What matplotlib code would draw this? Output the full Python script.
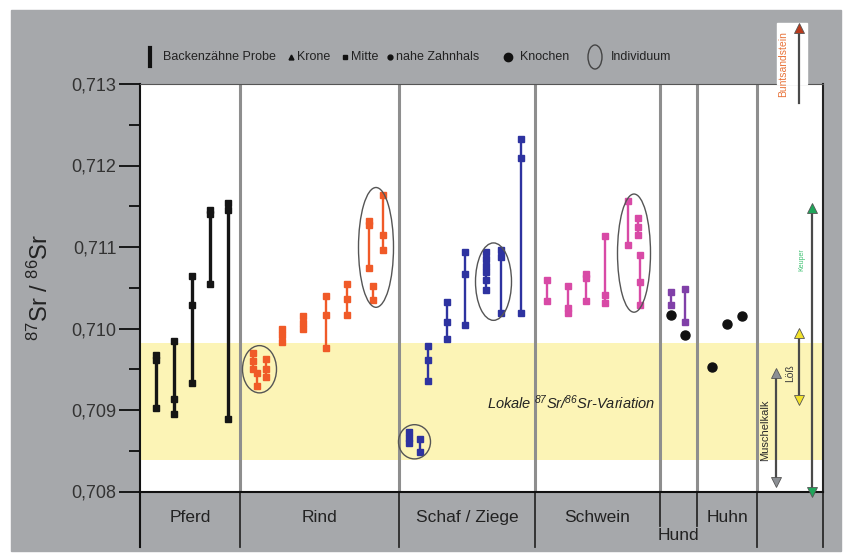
import matplotlib.pyplot as plt
from matplotlib.patches import Ellipse, Rectangle

plt.rcParams['font.family'] = ['Liberation Sans', 'DejaVu Sans']
plt.rcParams['mathtext.fontset'] = 'custom'
plt.rcParams['mathtext.rm'] = 'Liberation Sans'
plt.rcParams['mathtext.it'] = 'Liberation Sans:italic'

# Tierarten und Spaltengrenzen auf der x-Achse
tierarten = ['Pferd', 'Rind', 'Schaf / Ziege', 'Schwein', 'Hund', 'Huhn']
spalten = [0, 100, 259, 395, 520, 557, 617, 683]

# Backenzähne: Position und 87Sr/86Sr (Krone, Mitte, nahe Zahnhals)
pferd_x = [16, 34, 52, 70, 88]
pferd_sr = [[0.70968, 0.70961, 0.70902], [0.70985, 0.70913, 0.70895],
            [0.71064, 0.71029, 0.70933], [0.71145, 0.71140, 0.71055],
            [0.71154, 0.71145, 0.70889]]

rind_x = [113, 117, 126, 142, 163, 186, 207, 229, 233, 243]
rind_sr = [[0.70970, 0.70960, 0.70950], [0.70945, 0.70930],
           [0.70962, 0.70950, 0.70940], [0.71000, 0.70992, 0.70983],
           [0.71015, 0.71007, 0.70999], [0.71040, 0.71016, 0.70976],
           [0.71054, 0.71036, 0.71017], [0.71132, 0.71127, 0.71074],
           [0.71052, 0.71035], [0.71164, 0.71115, 0.71096]]

schaf_x = [269, 280, 288, 307, 325, 346, 361, 381]
schaf_sr = [[0.70873, 0.70866, 0.70859], [0.70865, 0.70849],
            [0.70978, 0.70961, 0.70935], [0.71032, 0.71008, 0.70987],
            [0.71094, 0.71067, 0.71004],
            [0.71094, 0.71085, 0.71077, 0.71069, 0.71060, 0.71047],
            [0.71096, 0.71088, 0.71019], [0.71233, 0.71209, 0.71019]]

schwein_x = [407, 428, 446, 465, 488, 498, 500]
schwein_sr = [[0.71060, 0.71034], [0.71052, 0.71025, 0.71019],
              [0.71067, 0.71062, 0.71034], [0.71113, 0.71041, 0.71031],
              [0.71156, 0.71102], [0.71135, 0.71125, 0.71115],
              [0.71090, 0.71057, 0.71029]]

hund_x = [531, 545]
hund_sr = [[0.71045, 0.71029], [0.71049, 0.71008]]

# Knochenproben (Hund, Huhn)
knochen_x = [531, 545, 572, 587, 602]
knochen_sr = [0.71017, 0.70992, 0.70953, 0.71006, 0.71015]

# Proben eines Individuums (Indizes innerhalb der Tierart)
rind_ind = [[0, 1, 2], [7, 8, 9]]
schaf_ind = [[0, 1], [5, 6]]
schwein_ind = [[4, 5, 6]]

# lokale Variation und geologische Einheiten
lokal = (0.70839, 0.70982)
geologie = ['Muschelkalk', 'Löß', 'Keuper', 'Buntsandstein']
geo_x = [636, 659, 672, 659]
geo_sr = [(0.70812, 0.70945), (0.70912, 0.70994), (0.70800, 0.71148),
          (0.71277, 0.71369)]
geo_farbe = ['#8c8f94', '#f2e22c', '#1fa65a', '#b83a1c']
geo_text = ['#2b2b2b', '#3a3a3a', '#3cc070', '#e8743b']


def fx(x):
    return x / 849


def fy(y):
    return 1 - y / 558


fig = plt.figure(figsize=(8.49, 5.58), dpi=100, facecolor='white')
fig.patches.append(Rectangle((fx(11), fy(551)), fx(841) - fx(11), fy(10) - fy(551),
                             transform=fig.transFigure, color='#a6a8ab', zorder=-1))
ax = fig.add_axes([fx(140), fy(491.5), 683 / 849, 407.5 / 558])
ax.set_xlim(0, 683)
ax.set_ylim(0.708, 0.713)

ax.axhspan(*lokal, color='#fcf4b6', lw=0, zorder=0)
ax.text(347, 0.70909, 'Lokale $^{\\mathregular{87}}$Sr/$^{\\mathregular{86}}$Sr-Variation',
        fontsize=10.5, style='italic', color='#222', va='center', zorder=2)

# Spaltentrenner
for s in spalten[1:-1]:
    ax.plot([s, s], [0.708, 0.713], color='#8e8e8e', lw=2.2, zorder=1)
for s in spalten:
    unten = -0.085 if s in (520, 557) else -0.137
    ax.plot([s, s], [0, unten], color='#2a2a2a', lw=1.3,
            transform=ax.get_xaxis_transform(), clip_on=False)
for i, name in enumerate(tierarten):
    mitte = (spalten[i] + spalten[i + 1]) / 2
    y = -0.107 if name == 'Hund' else -0.063
    ax.text(mitte, y, name, ha='center', va='center', fontsize=12.5,
            color='#222', transform=ax.get_xaxis_transform())


def zahn(x, werte, farbe, lw=1.7):
    ax.plot([x, x], [min(werte), max(werte)], color=farbe, lw=lw, zorder=3)
    ax.plot([x] * len(werte), werte, 's', color=farbe, ms=4, zorder=4)


def individuen(xs, sr, gruppen):
    for g in gruppen:
        x = [xs[i] for i in g]
        v = [w for i in g for w in sr[i]]
        ax.add_patch(Ellipse(((min(x) + max(x)) / 2, (min(v) + max(v)) / 2),
                             max(x) - min(x) + 21, max(v) - min(v) + 0.00018,
                             fill=False, ec='#555', lw=1, zorder=5))


for x, w in zip(pferd_x, pferd_sr):
    zahn(x, w, '#151515', lw=2.4)
for x, w in zip(rind_x, rind_sr):
    zahn(x, w, '#f05a28')
for x, w in zip(schaf_x, schaf_sr):
    zahn(x, w, '#2e33a0')
for x, w in zip(schwein_x, schwein_sr):
    zahn(x, w, '#d84aa6')
for x, w in zip(hund_x, hund_sr):
    zahn(x, w, '#8040a8')
ax.plot(knochen_x, knochen_sr, 'o', color='#111', ms=6.5, zorder=6)

individuen(rind_x, rind_sr, rind_ind)
individuen(schaf_x, schaf_sr, schaf_ind)
individuen(schwein_x, schwein_sr, schwein_ind)

# geologische Einheiten als Pfeile
ax.add_patch(Rectangle((637, 0.713), 30, 0.00075, color='white', clip_on=False, zorder=3))
for i, name in enumerate(geologie):
    lo, hi = geo_sr[i]
    x = geo_x[i]
    ax.plot([x, x], [lo, hi], color='#4a4a4a', lw=1.6, clip_on=False, zorder=4)
    ax.plot(x, hi, '^', color=geo_farbe[i], mec='#555', mew=0.6, ms=7,
            clip_on=False, zorder=5)
    if name != 'Buntsandstein':
        ax.plot(x, lo, 'v', color=geo_farbe[i], mec='#555', mew=0.6, ms=7,
                clip_on=False, zorder=5)
ax.text(625, 0.70875, 'Muschelkalk', rotation=90, fontsize=8, color=geo_text[0],
        ha='center', va='center')
ax.text(650, 0.70945, 'Löß', rotation=90, fontsize=7.5, color=geo_text[1],
        ha='center', va='center')
ax.text(662, 0.71084, 'Keuper', rotation=90, fontsize=5, color=geo_text[2],
        ha='center', va='center')
ax.text(643, 0.71324, 'Buntsandstein', rotation=90, fontsize=7.5, color=geo_text[3],
        ha='center', va='center', clip_on=False, zorder=6)

# Achsen
for side in ['left', 'bottom']:
    ax.spines[side].set_color('#111')
    ax.spines[side].set_linewidth(1.5)
ax.plot([0, 0], [0, -0.137], color='#111', lw=1.5, transform=ax.get_xaxis_transform(),
        clip_on=False)
ax.spines['right'].set_color('#222')
ax.spines['right'].set_linewidth(1.5)
ax.spines['top'].set_color('#555')
ax.spines['top'].set_linewidth(0.8)
ax.set_xticks([])
ticks = [0.708, 0.709, 0.710, 0.711, 0.712, 0.713]
ax.set_yticks(ticks)
ax.set_yticklabels([f'{t:.3f}'.replace('.', ',') for t in ticks])
ax.set_yticks([0.7085, 0.7095, 0.7105, 0.7115, 0.7125], minor=True)
ax.tick_params(axis='y', which='major', direction='out', length=15, width=1.2,
               labelsize=13, labelcolor='#333', pad=2)
ax.tick_params(axis='y', which='minor', direction='out', length=8, width=1.2)
ax.text(-0.146, 0.5, '$^{\\mathregular{87}}$Sr / $^{\\mathregular{86}}$Sr', rotation=90,
        fontsize=17, color='#222', ha='center', va='center', transform=ax.transAxes)

# Legende
fig.add_artist(plt.Line2D([fx(150), fx(150)], [fy(48), fy(66)], color='#111', lw=3))
fig.text(fx(163), fy(57), 'Backenzähne Probe', fontsize=9, color='#222', va='center')
for mx, mk, txt in [(291, '^', 'Krone'), (345, 's', 'Mitte'), (390, 'o', 'nahe Zahnhals')]:
    fig.add_artist(plt.Line2D([fx(mx)], [fy(57)], marker=mk, ms=3.5, color='#111'))
    fig.text(fx(mx + 6), fy(57), txt, fontsize=9, color='#222', va='center')
fig.add_artist(plt.Line2D([fx(508)], [fy(57)], marker='o', ms=6, color='#111'))
fig.text(fx(520), fy(57), 'Knochen', fontsize=9, color='#222', va='center')
fig.add_artist(Ellipse((fx(595), fy(57)), fx(14), 24 / 558, fill=False, ec='#444',
                       lw=1, transform=fig.transFigure))
fig.text(fx(611), fy(57), 'Individuum', fontsize=9, color='#222', va='center')

fig.savefig('out.png', dpi=100, facecolor='white')
